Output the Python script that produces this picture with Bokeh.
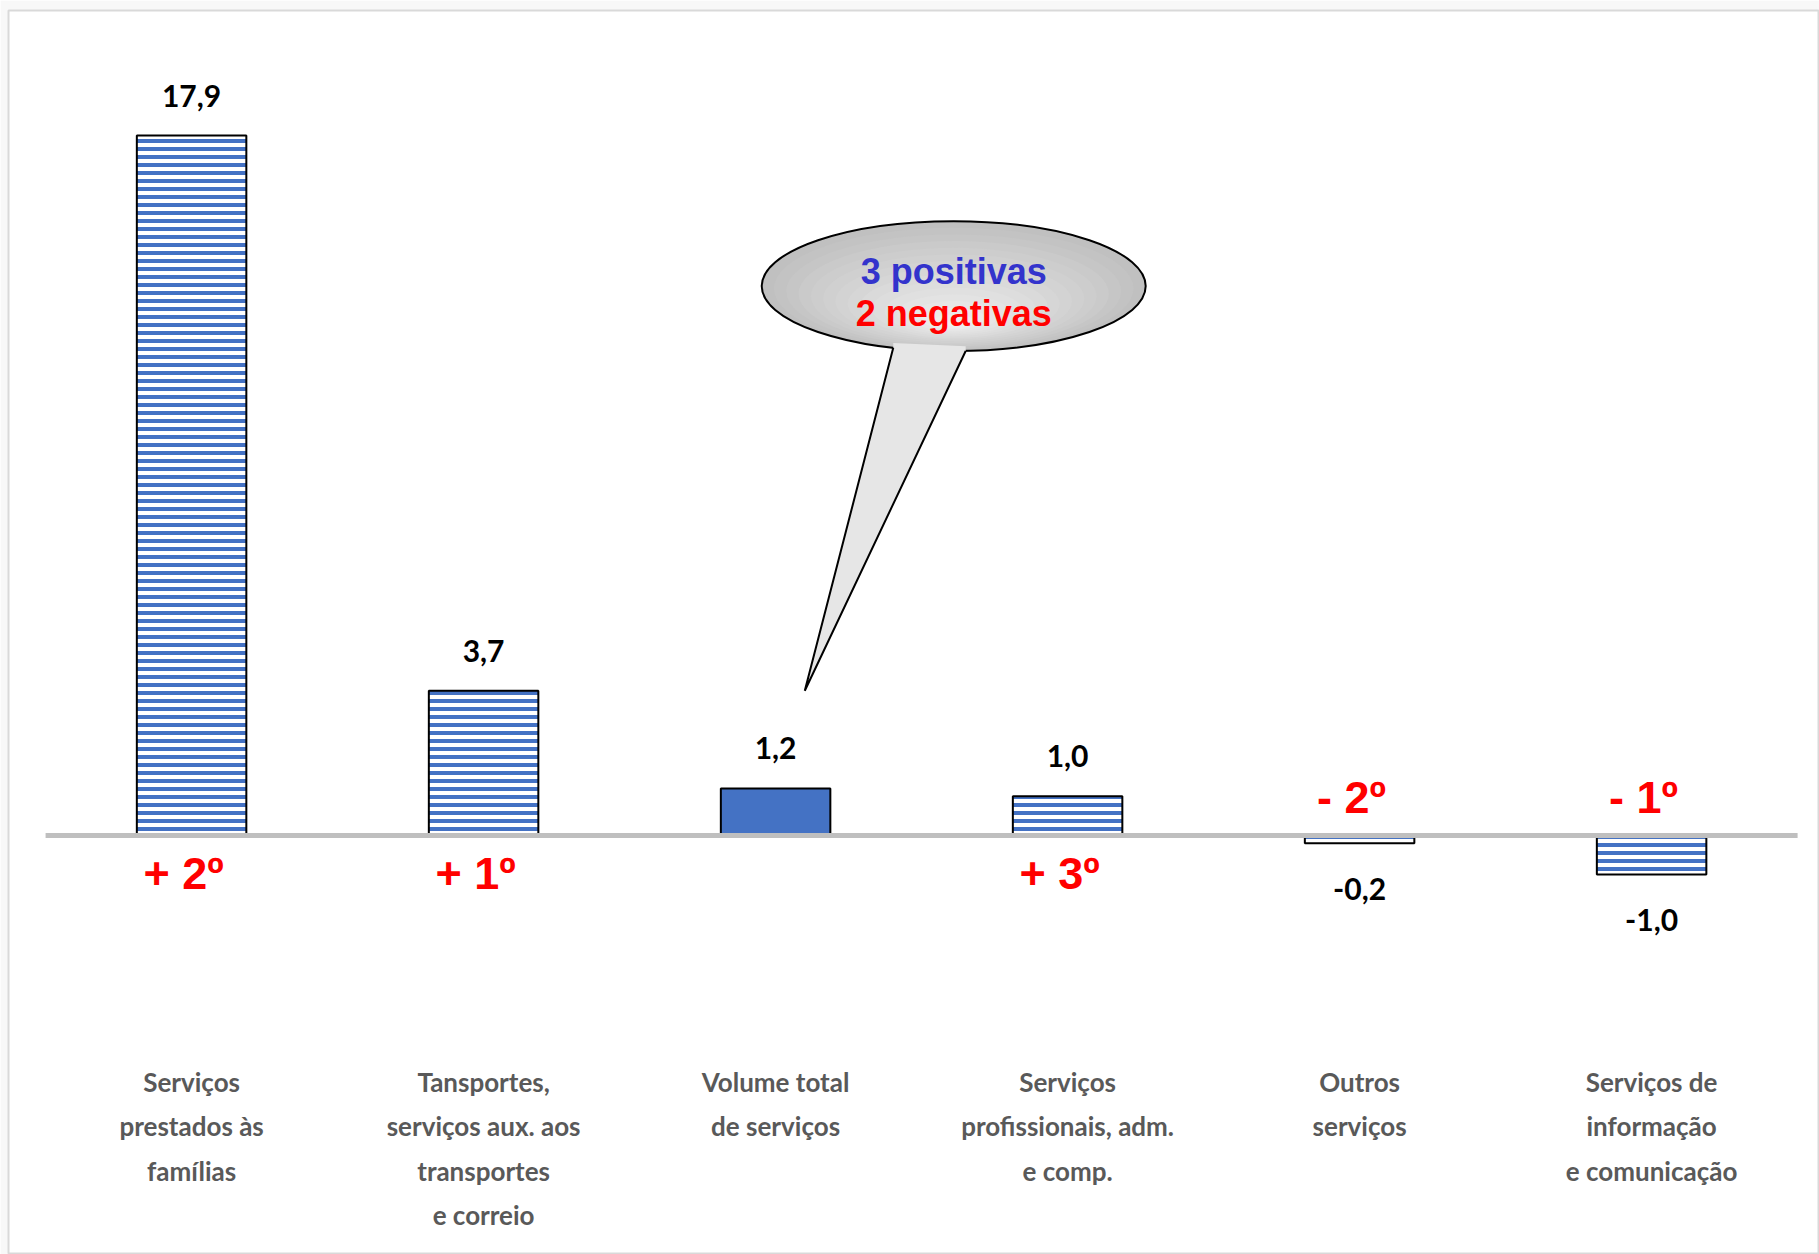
import numpy as np
from bokeh.plotting import figure
from bokeh.models import Range1d, ColumnDataSource, LabelSet, Label
from bokeh.core.properties import value
from bokeh.embed import file_html
from bokeh.resources import INLINE

# ---------------- data ----------------
categories = [
    "Serviços\nprestados às\nfamílias",
    "Tansportes,\nserviços aux. aos\ntransportes\ne correio",
    "Volume total\nde serviços",
    "Serviços\nprofissionais, adm.\ne comp.",
    "Outros\nserviços",
    "Serviços de\ninformação\ne comunicação",
]
values = [17.9, 3.7, 1.2, 1.0, -0.2, -1.0]
ranks = ["+ 2º", "+ 1º", "", "+ 3º", "- 2º", "- 1º"]
total_category = "Volume total\nde serviços"
callout_lines = ["3 positivas", "2 negativas"]

# ---------------- layout / styling ----------------
BLUE = "#4472c4"
n = len(categories)
idx = list(range(n))
t = categories.index(total_category)
value_text = [f"{v:.1f}".replace(".", ",") for v in values]

FW, FH = 1811, 1244
Y0, Y1 = -10.72, 21.10
PX_PER_UNIT = FH / (Y1 - Y0)

p = figure(width=1819, height=1254, output_backend="svg", toolbar_location=None,
           x_range=Range1d(-0.627, 5.575), y_range=Range1d(Y0, Y1),
           x_axis_location=None, y_axis_location=None,
           min_border_left=8, min_border_top=10, min_border_right=0, min_border_bottom=0)
p.xgrid.visible = False
p.ygrid.visible = False
p.outline_line_color = "#d9d9d9"
p.outline_line_width = 2
p.background_fill_color = "white"
p.border_fill_color = "#f8f8f8"

# bars
hx = [i for i in idx if i != t]
p.vbar(x=hx, top=[values[i] for i in hx], bottom=0, width=0.375,
       fill_color="white", hatch_pattern="horizontal_line", hatch_color=BLUE,
       hatch_scale=8, hatch_weight=4, line_color="black", line_width=2)
p.vbar(x=[t], top=[values[t]], bottom=0, width=0.375, fill_color=BLUE,
       line_color="black", line_width=2)

# zero line
p.segment(x0=[-0.5], y0=[0], x1=[n - 0.5], y1=[0], line_color="#bfbfbf", line_width=5)

# value labels
pos = [i for i in idx if values[i] >= 0]
neg = [i for i in idx if values[i] < 0]
for sel, off in ((pos, 40), (neg, -46)):
    src = ColumnDataSource(dict(x=sel, y=[values[i] for i in sel], txt=[value_text[i] for i in sel]))
    p.add_layout(LabelSet(x="x", y="y", text="txt", source=src, y_offset=off,
                          text_align="center", text_baseline="middle",
                          text_font=value("Lato"), text_font_style="bold",
                          text_font_size="30px", text_color="black"))

# rank labels
for sel, off in (([i for i in pos if ranks[i]], -38), ([i for i in neg if ranks[i]], 38)):
    src = ColumnDataSource(dict(x=sel, y=[0] * len(sel), txt=[ranks[i] for i in sel]))
    p.add_layout(LabelSet(x="x", y="y", text="txt", source=src, y_offset=off, x_offset=-8,
                          text_align="center", text_baseline="middle",
                          text_font=value("Liberation Sans"), text_font_style="bold",
                          text_font_size="45px", text_color="#ff0000"))

# category labels (one text per line, centred)
LABEL_TOP = -6.3
LINE_SPACING = 44.5 / PX_PER_UNIT
lx_, ly_, lt_ = [], [], []
for i, cat in enumerate(categories):
    for k, line in enumerate(cat.split("\n")):
        lx_.append(i)
        ly_.append(LABEL_TOP - k * LINE_SPACING)
        lt_.append(line)
p.text(x=lx_, y=ly_, text=lt_, text_align="center", text_baseline="middle",
       text_font=value("Lato"), text_font_style="bold", text_font_size="26px",
       text_color="#595959")

# callout bubble
cx, cy = t + 0.61, 14.05
a, b = 0.6575, 1.6625
fx, fy = cx, cy - 1.0
c0 = np.array([0xc0, 0xc0, 0xc0])
c1 = np.array([0xf2, 0xf2, 0xf2])
for s in np.linspace(1, 0.04, 16):
    col = c0 + (c1 - c0) * (1 - s)
    colhex = "#%02x%02x%02x" % tuple(int(round(v)) for v in col)
    p.ellipse(x=[fx + (cx - fx) * s], y=[fy + (cy - fy) * s], width=[2 * a * s],
              height=[2 * b * s], fill_color=colhex, line_color=None)
p.ellipse(x=[cx], y=[cy], width=[2 * a], height=[2 * b], fill_color=None,
          line_color="black", line_width=2)

def ell_y(dx):
    return cy - b * np.sqrt(1 - (dx / a) ** 2)

lx, rx = cx - 0.207, cx + 0.041
ly, ry = ell_y(-0.207), ell_y(0.041)
tipx, tipy = t + 0.10, values[t] + 2.5
p.patch(x=[lx, tipx, rx, rx, lx], y=[ly, tipy, ry, ry + 0.12, ly + 0.12],
        fill_color="#e6e6e6", line_color=None)
p.line(x=[lx, tipx, rx], y=[ly, tipy, ry], line_color="black", line_width=2)

for txt, col, off in ((callout_lines[0], "#3333cc", 15), (callout_lines[1], "#ff0000", -27)):
    p.add_layout(Label(x=cx, y=cy, text=txt, y_offset=off, text_align="center",
                       text_baseline="middle", text_font="Liberation Sans",
                       text_font_style="bold", text_font_size="36px", text_color=col))

html = file_html(p, INLINE)
html = html.replace("<body>", '<body style="background:#f8f8f8">', 1)
open("out.html", "w").write(html)
